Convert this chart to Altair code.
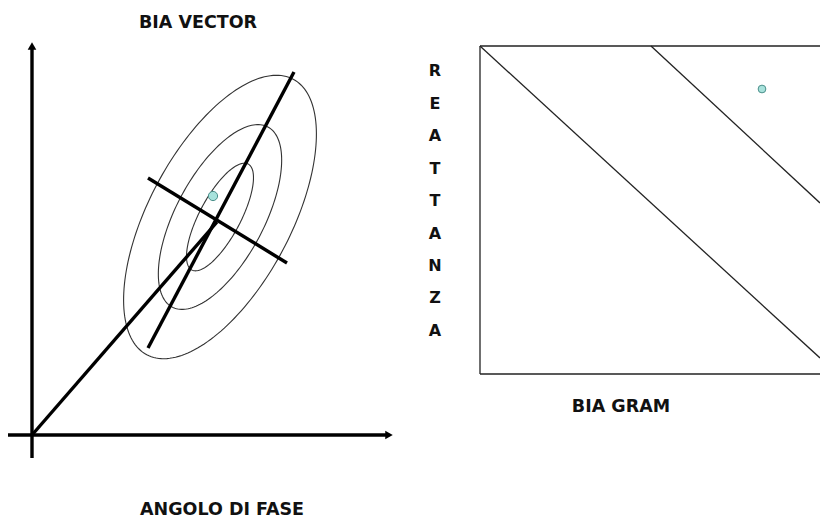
import altair as alt
import numpy as np
import pandas as pd

# ---- diagram data (page-like coordinate units) ----
# thick segments of the BIA vector panel: axes and vectors
thick_x1 = [32, 8, 32, 148, 148]
thick_y1 = [458, 435, 435, 348, 178]
thick_x2 = [32, 387, 217, 294, 287]
thick_y2 = [49, 435, 222, 72, 263]

# arrow heads of the two axes
arrow_x = [32, 389]
arrow_y = [46, 435]
arrow_shape = ["triangle-up", "triangle-right"]

# tolerance ellipses (center, semi-axes, tilt in degrees)
ell_cx = 220
ell_cy = 217
ell_tilt = 62
ell_a = [60, 102, 156]
ell_b = [20.5, 44, 71]

# BIA gram panel: box sides and diagonal lines
thin_x1 = [480, 480, 480, 480, 651]
thin_y1 = [46, 374, 46, 46, 46]
thin_x2 = [820, 820, 480, 820, 820]
thin_y2 = [46, 374, 374, 358, 203]

# subject points
pt_x = [213, 762]
pt_y = [196, 89]
pt_size = [85, 60]

# labels
label_text = ["BIA VECTOR", "ANGOLO DI FASE", "BIA GRAM"]
label_x = [198, 222, 621]
label_y = [23, 510, 407]
vert_letters = list("REATTANZA")
vert_y = [71, 104, 136, 169, 201, 234, 266, 298, 331]
vert_x = 435

# ---- build tables ----
thick = pd.DataFrame({"x": thick_x1, "y": thick_y1, "x2": thick_x2, "y2": thick_y2})
thin = pd.DataFrame({"x": thin_x1, "y": thin_y1, "x2": thin_x2, "y2": thin_y2})
arrows = pd.DataFrame({"x": arrow_x, "y": arrow_y, "shape": arrow_shape})
pts = pd.DataFrame({"x": pt_x, "y": pt_y, "s": pt_size})
labels = pd.DataFrame({"t": label_text, "x": label_x, "y": label_y})
letters = pd.DataFrame({"t": vert_letters, "x": [vert_x] * len(vert_letters), "y": vert_y})

rows = []
th = np.radians(ell_tilt)
tt = np.linspace(0, 2 * np.pi, 181)
for i, (a, b) in enumerate(zip(ell_a, ell_b)):
    ex = ell_cx + a * np.cos(th) * np.cos(tt) - b * np.sin(th) * np.sin(tt)
    ey = ell_cy - (a * np.sin(th) * np.cos(tt) + b * np.cos(th) * np.sin(tt))
    for k in range(len(tt)):
        rows.append({"e": i, "o": k, "x": ex[k], "y": ey[k]})
ell = pd.DataFrame(rows)

W, H = 812, 511
xs = alt.Scale(domain=[8, 8 + W], range=[0, W], nice=False, zero=False)
ys = alt.Scale(domain=[8, 8 + H], range=[0, H], nice=False, zero=False)
X = lambda f="x": alt.X(f, type="quantitative", scale=xs, axis=None)
Y = lambda f="y": alt.Y(f, type="quantitative", scale=ys, axis=None)

thick_layer = alt.Chart(thick).mark_rule(color="black", strokeWidth=3.4).encode(
    x=X(), y=Y(), x2="x2", y2="y2")
thin_layer = alt.Chart(thin).mark_rule(color="#222222", strokeWidth=1.3).encode(
    x=X(), y=Y(), x2="x2", y2="y2")
ell_layer = alt.Chart(ell).mark_line(color="#333333", strokeWidth=1.1).encode(
    x=X(), y=Y(), detail="e:N", order="o:Q")
arrow_layer = alt.Chart(arrows).mark_point(filled=True, color="black", size=75, opacity=1).encode(
    x=X(), y=Y(), shape=alt.Shape("shape:N", scale=None))
pt_layer = alt.Chart(pts).mark_point(filled=True, shape="circle", fill="#a8e2dc",
                                     stroke="#4a8f8a", strokeWidth=1, opacity=1).encode(
    x=X(), y=Y(), size=alt.Size("s:Q", scale=None))
label_layer = alt.Chart(labels).mark_text(font="DejaVu Sans", fontWeight="bold", fontSize=17.5,
                                          color="#111111", align="center", baseline="middle").encode(
    x=X(), y=Y(), text="t:N")
letter_layer = alt.Chart(letters).mark_text(font="DejaVu Sans", fontWeight="bold", fontSize=16,
                                            color="#111111", align="center", baseline="middle").encode(
    x=X(), y=Y(), text="t:N")

chart = alt.layer(ell_layer, thin_layer, thick_layer, arrow_layer, pt_layer,
                  label_layer, letter_layer).properties(
    width=W, height=H, padding=0, autosize=alt.AutoSizeParams(type="none"),
    background="white"
).configure_view(stroke=None)

chart.save("out.html", embed_options={"renderer": "svg", "actions": False})
